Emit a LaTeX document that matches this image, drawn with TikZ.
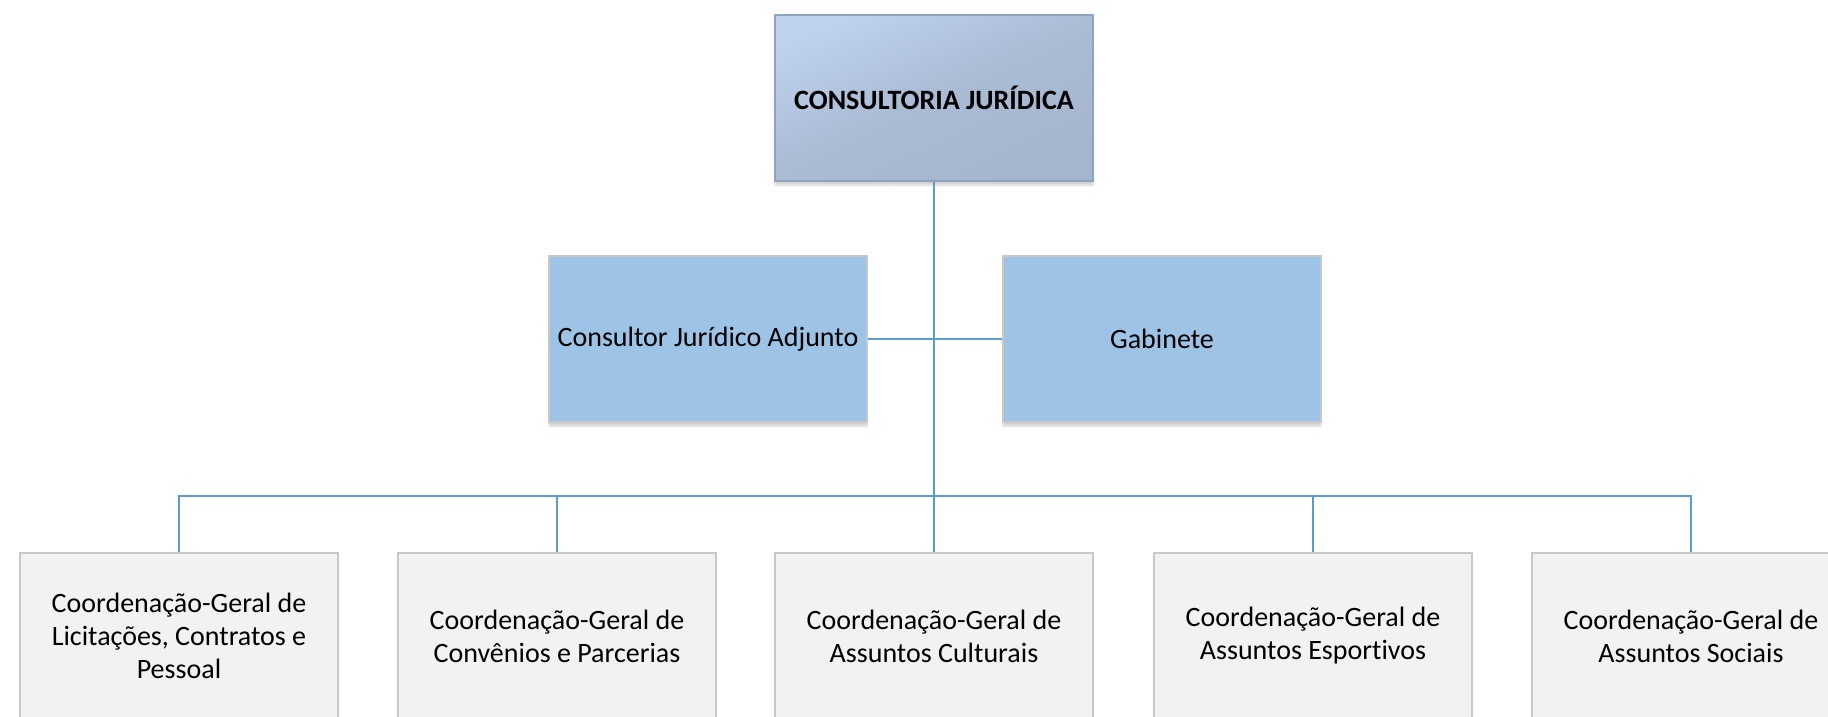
\documentclass[tikz,border=0pt]{standalone}
\usepackage{fontspec}
\setmainfont{Carlito}[Ligatures=NoCommon]
\usetikzlibrary{shadows.blur}
\definecolor{linkc}{HTML}{5B9BD5}
\definecolor{midfill}{HTML}{9DC3E6}
\definecolor{lowfill}{HTML}{F2F2F2}
\definecolor{boxline}{HTML}{C8C8C8}
\definecolor{topline}{HTML}{8FA2BF}
\definecolor{toplight}{HTML}{BED2EC}
\definecolor{topmid}{HTML}{AABBD4}
\definecolor{topdark}{HTML}{A5B5CE}
\begin{document}
\begin{tikzpicture}[x=1pt,y=-1pt,
  unitbox/.style={rectangle, minimum width=318pt, minimum height=166pt, inner sep=0pt,
    align=center, font=\fontsize{28}{33}\selectfont, line width=1.5pt,
    blur shadow={shadow xshift=0pt, shadow yshift=-4pt, shadow blur steps=6, shadow opacity=18}},
  headbox/.style={unitbox, draw=topline, top color=toplight, bottom color=topdark,
    middle color=topmid, shading angle=25, font=\fontsize{28}{33}\selectfont\bfseries},
  midbox/.style={unitbox, draw=boxline, fill=midfill},
  lowbox/.style={unitbox, draw=boxline, fill=lowfill},
  link/.style={draw=linkc, line width=2.8pt}]
\useasboundingbox (0,0) rectangle (1828,717);
\node[headbox] (top) at (934,98) {CONSULTORIA JURÍDICA};
\node[midbox] (cons) at (708,339) {Consultor Jurídico Adjunto};
\node[midbox] (gab) at (1162,339) {Gabinete};
\node[lowbox] (c1) at (179,636) {Coordenação-Geral de\\Licitações, Contratos e\\Pessoal};
\node[lowbox] (c2) at (557,636) {Coordenação-Geral de\\Convênios e Parcerias};
\node[lowbox] (c3) at (934,636) {Coordenação-Geral de\\Assuntos Culturais};
\node[lowbox] (c4) at (1313,636) {Coordenação-Geral de\\Assuntos Esportivos};
\node[lowbox] (c5) at (1691,636) {Coordenação-Geral de\\Assuntos Sociais};
\coordinate (bus) at (934,496);
\draw[link] (top.south) -- (bus);
\draw[link] (cons.east) -- (gab.west);
\draw[link] (c1.north) |- (bus);
\draw[link] (c2.north) |- (bus);
\draw[link] (c3.north) -- (bus);
\draw[link] (c4.north) |- (bus);
\draw[link] (c5.north) |- (bus);
\end{tikzpicture}
\end{document}
